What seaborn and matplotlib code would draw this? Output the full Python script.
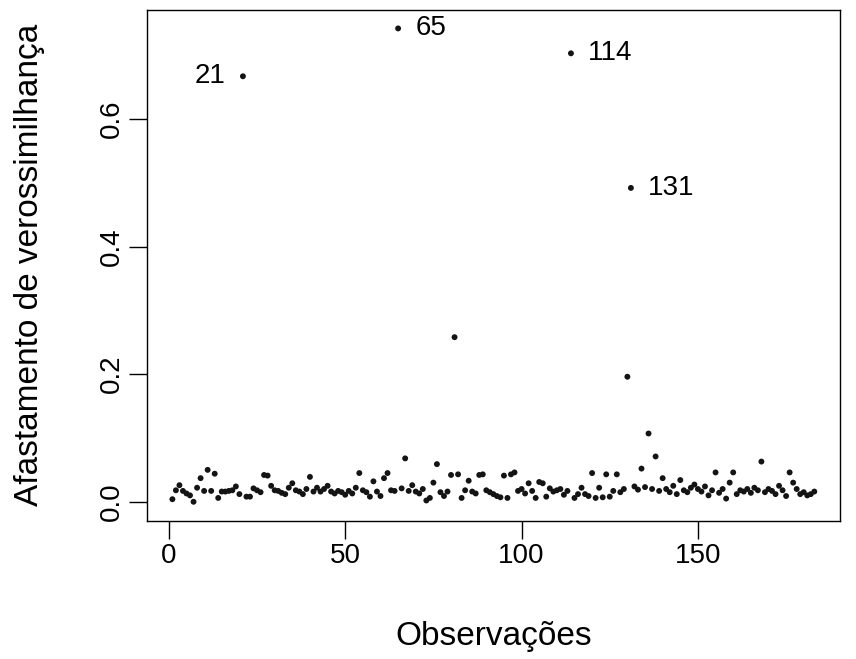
import numpy as np
import pandas as pd
import matplotlib
matplotlib.use("Agg")
import matplotlib.pyplot as plt
import seaborn as sns

# afastamento de verossimilhanca por observacao
afast = [
    0.004, 0.018, 0.026, 0.017, 0.013, 0.010, 0.000, 0.022, 0.037, 0.017,
    0.050, 0.017, 0.044, 0.006, 0.016, 0.016, 0.017, 0.018, 0.024, 0.012,
    0.667, 0.008, 0.008, 0.021, 0.018, 0.015, 0.042, 0.041, 0.025, 0.018,
    0.017, 0.014, 0.012, 0.022, 0.029, 0.018, 0.016, 0.012, 0.020, 0.039,
    0.016, 0.022, 0.016, 0.020, 0.025, 0.016, 0.013, 0.017, 0.015, 0.011,
    0.017, 0.013, 0.022, 0.045, 0.018, 0.015, 0.008, 0.032, 0.016, 0.009,
    0.037, 0.045, 0.018, 0.017, 0.742, 0.021, 0.068, 0.017, 0.026, 0.016,
    0.013, 0.020, 0.002, 0.006, 0.030, 0.059, 0.015, 0.009, 0.016, 0.042,
    0.258, 0.043, 0.006, 0.018, 0.033, 0.016, 0.013, 0.042, 0.043, 0.018,
    0.015, 0.012, 0.009, 0.007, 0.041, 0.006, 0.043, 0.046, 0.017, 0.020,
    0.013, 0.029, 0.017, 0.006, 0.031, 0.029, 0.008, 0.021, 0.016, 0.018,
    0.020, 0.011, 0.017, 0.703, 0.006, 0.012, 0.022, 0.012, 0.009, 0.045,
    0.006, 0.022, 0.007, 0.043, 0.008, 0.017, 0.043, 0.015, 0.020, 0.196,
    0.492, 0.024, 0.019, 0.052, 0.023, 0.107, 0.020, 0.071, 0.017, 0.037,
    0.020, 0.015, 0.025, 0.012, 0.034, 0.018, 0.015, 0.022, 0.027, 0.020,
    0.016, 0.024, 0.010, 0.018, 0.046, 0.014, 0.020, 0.005, 0.030, 0.046,
    0.012, 0.018, 0.016, 0.020, 0.014, 0.022, 0.018, 0.063, 0.015, 0.020,
    0.017, 0.012, 0.025, 0.018, 0.009, 0.046, 0.030, 0.020, 0.012, 0.015,
    0.010, 0.012, 0.016,
]
obs = list(range(1, len(afast) + 1))
destaque = [21, 65, 114, 131]
lado = ['left', 'right', 'right', 'right']

df = pd.DataFrame({'obs': obs, 'afast': afast})

sns.set_style("ticks")
plt.rcParams['font.family'] = ['Liberation Sans', 'DejaVu Sans']
plt.rcParams['text.color'] = 'black'
plt.rcParams['axes.labelcolor'] = 'black'

W, H = 856, 659
fig = plt.figure(figsize=(W / 100, H / 100), dpi=100)
ax = fig.add_axes([146.7 / W, (H - 520.7) / H, (840 - 146.7) / W, (520.7 - 9.5) / H])

sns.scatterplot(data=df, x='obs', y='afast', ax=ax, s=18, color='#141414',
                edgecolor='none', linewidth=0)

# limites no estilo do R (4% de folga)
n = len(afast)
ax.set_xlim(1 - 0.04 * (n - 1), n + 0.04 * (n - 1))
rng = max(afast) - min(afast)
ax.set_ylim(min(afast) - 0.04 * rng, max(afast) + 0.04 * rng)

for o, l in zip(destaque, lado):
    v = afast[o - 1]
    if l == 'right':
        ax.annotate(str(o), (o, v), xytext=(12.5, 0), textcoords='offset points',
                    ha='left', va='center', fontsize=20, color='black')
    else:
        ax.annotate(str(o), (o, v), xytext=(-12.5, 0), textcoords='offset points',
                    ha='right', va='center', fontsize=20, color='black')

ax.set_xticks([0, 50, 100, 150])
ax.set_yticks([0.0, 0.2, 0.4, 0.6])
ax.set_yticklabels(['0.0', '0.2', '0.4', '0.6'], rotation=90, va='center')
ax.tick_params(axis='both', length=12.7, width=1.0, labelsize=20, pad=3,
               color='black', labelcolor='black')

for sp in ax.spines.values():
    sp.set_visible(True)
    sp.set_linewidth(1.0)
    sp.set_color('black')

ax.set_xlabel('Observações', fontsize=24, color='black')
ax.set_ylabel('Afastamento de verossimilhança', fontsize=24, color='black')
ax.xaxis.label.set_va('center')
ax.yaxis.label.set_va('center')
ax.xaxis.set_label_coords(0.5, (520.7 - 636) / 511.2)
ax.yaxis.set_label_coords((30 - 146.7) / 693.3, 0.5)

fig.savefig('out.png', dpi=100)
